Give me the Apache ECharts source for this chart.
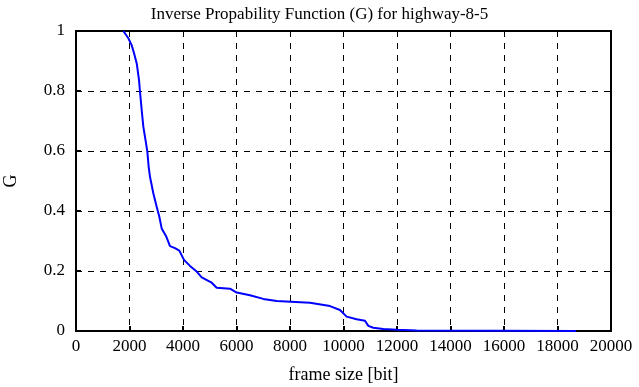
<!DOCTYPE html>
<html><head><meta charset="utf-8">
<script src="https://cdn.jsdelivr.net/npm/echarts@6/dist/echarts.min.js"></script>
<style>html,body{margin:0;padding:0;background:#fff}#c{width:639px;height:387px}</style>
</head><body><div id="c"></div>
<script>
const frameSize = [1770,1957,2080,2170,2270,2355,2390,2455,2517,2617,2667,2716,2766,2890,3016,3115,3203,3364,3514,3701,3862,4037,4261,4511,4699,5072,5259,5757,6007,6504,7002,7501,8747,9495,9868,10118,10492,10803,10928,11113,11487,11987,12735,18690];
const gValues = [1.0,0.976,0.953,0.926,0.892,0.837,0.80,0.737,0.681,0.626,0.598,0.548,0.514,0.459,0.414,0.381,0.342,0.317,0.283,0.276,0.268,0.237,0.217,0.198,0.179,0.161,0.144,0.141,0.128,0.119,0.107,0.100,0.094,0.083,0.070,0.048,0.039,0.034,0.017,0.011,0.007,0.004,0.002,0.0];
const xTicks = [0,2000,4000,6000,8000,10000,12000,14000,16000,18000,20000];
const yTicks = [0,0.2,0.4,0.6,0.8,1];
const titleText = 'Inverse Propability Function (G) for highway-8-5';
const xName = 'frame size [bit]';
const yName = 'G';

const font = 'Liberation Serif';
const chart = echarts.init(document.getElementById('c'), null, {renderer:'canvas'});
const gridLine = {show:true, lineStyle:{color:'#000', type:[6,6], width:1}};
chart.setOption({
  animation:false,
  title:{text:titleText, left:'center', top:1, textStyle:{fontFamily:font, fontSize:17, fontWeight:'normal', color:'#000'}},
  grid:{left:76, right:28, top:31, bottom:56, show:true, borderColor:'#000', borderWidth:2, containLabel:false, outerBoundsMode:'none'},
  xAxis:{type:'value', min:xTicks[0], max:xTicks[xTicks.length-1], interval:2000,
    name:xName, nameLocation:'middle', nameGap:35,
    nameTextStyle:{fontFamily:font, fontSize:18, color:'#000'},
    axisLine:{show:true, lineStyle:{color:'#000', width:2}},
    axisTick:{show:true, inside:true, length:5, lineStyle:{color:'#000', width:2}},
    axisLabel:{fontFamily:font, fontSize:17, color:'#000', margin:7, formatter:v=>String(v)},
    splitLine:gridLine},
  yAxis:{type:'value', min:yTicks[0], max:yTicks[yTicks.length-1], interval:0.2,
    name:yName, nameLocation:'middle', nameGap:56,
    nameTextStyle:{fontFamily:font, fontSize:18, color:'#000'},
    axisLine:{show:true, lineStyle:{color:'#000', width:2}},
    axisTick:{show:true, inside:true, length:5, lineStyle:{color:'#000', width:2}},
    axisLabel:{fontFamily:font, fontSize:17, color:'#000', margin:11, formatter:v=>String(Math.round(v*10)/10)},
    splitLine:gridLine},
  series:[{type:'line', data:frameSize.map((x,i)=>[x,gValues[i]]), showSymbol:false,
    lineStyle:{color:'#0000ff', width:2}, itemStyle:{color:'#0000ff'}}]
});
</script></body></html>
